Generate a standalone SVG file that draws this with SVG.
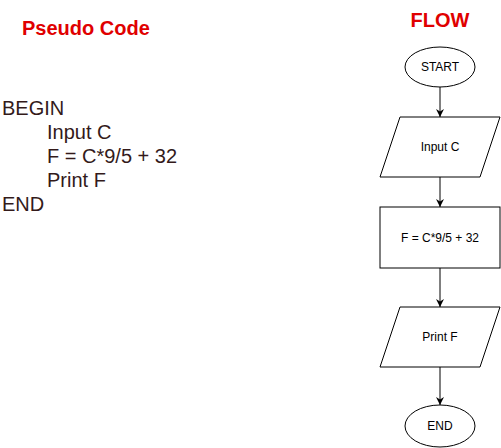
<svg xmlns="http://www.w3.org/2000/svg" width="501" height="448" viewBox="0 0 501 448">
<style>
.shape{fill:#ffffff;stroke:#000000;stroke-width:1}
.lbl{font-family:"Liberation Sans",Arial,sans-serif;font-size:12px;fill:#000000;text-anchor:middle}
.title{font-family:"Liberation Sans",Arial,sans-serif;font-size:20px;font-weight:bold;fill:#e00000}
.code{font-family:"Liberation Sans",Arial,sans-serif;font-size:20px;fill:#331a1a}
.conn{stroke:#000000;stroke-width:1;fill:none;marker-end:url(#arr)}
</style>
<defs>
<marker id="arr" viewBox="0 0 10 10" refX="10" refY="5" markerWidth="8" markerHeight="8" markerUnits="userSpaceOnUse" orient="auto">
<path d="M0,0 L10,5 L0,10 L3,5 Z" fill="#000000"/>
</marker>
</defs>
<rect width="501" height="448" fill="#ffffff"/>
<g id="titles">
<text class="title" x="22" y="35">Pseudo Code</text>
<text class="title" x="440" y="27" text-anchor="middle">FLOW</text>
</g>
<g id="pseudocode">
<text class="code" x="2" y="115">BEGIN</text>
<text class="code" x="47" y="139">Input C</text>
<text class="code" x="47" y="163">F = C*9/5 + 32</text>
<text class="code" x="47" y="187">Print F</text>
<text class="code" x="2" y="211">END</text>
</g>
<g id="connectors">
<line class="conn" x1="440" y1="87" x2="440" y2="117"/>
<line class="conn" x1="440" y1="177" x2="440" y2="207"/>
<line class="conn" x1="440" y1="268" x2="440" y2="307"/>
<line class="conn" x1="440" y1="367" x2="440" y2="405"/>
</g>
<g id="start">
<ellipse class="shape" cx="440" cy="67" rx="35" ry="20"/>
<text class="lbl" x="440" y="71">START</text>
</g>
<g id="input">
<polygon class="shape" points="400,117 500,117 480,177 380,177"/>
<text class="lbl" x="440" y="151">Input C</text>
</g>
<g id="compute">
<rect class="shape" x="380" y="207" width="120" height="61"/>
<text class="lbl" x="440" y="242">F = C*9/5 + 32</text>
</g>
<g id="print">
<polygon class="shape" points="400,307 500,307 480,367 380,367"/>
<text class="lbl" x="440" y="341">Print F</text>
</g>
<g id="end">
<ellipse class="shape" cx="440" cy="426" rx="35" ry="21"/>
<text class="lbl" x="440" y="430">END</text>
</g>
</svg>
